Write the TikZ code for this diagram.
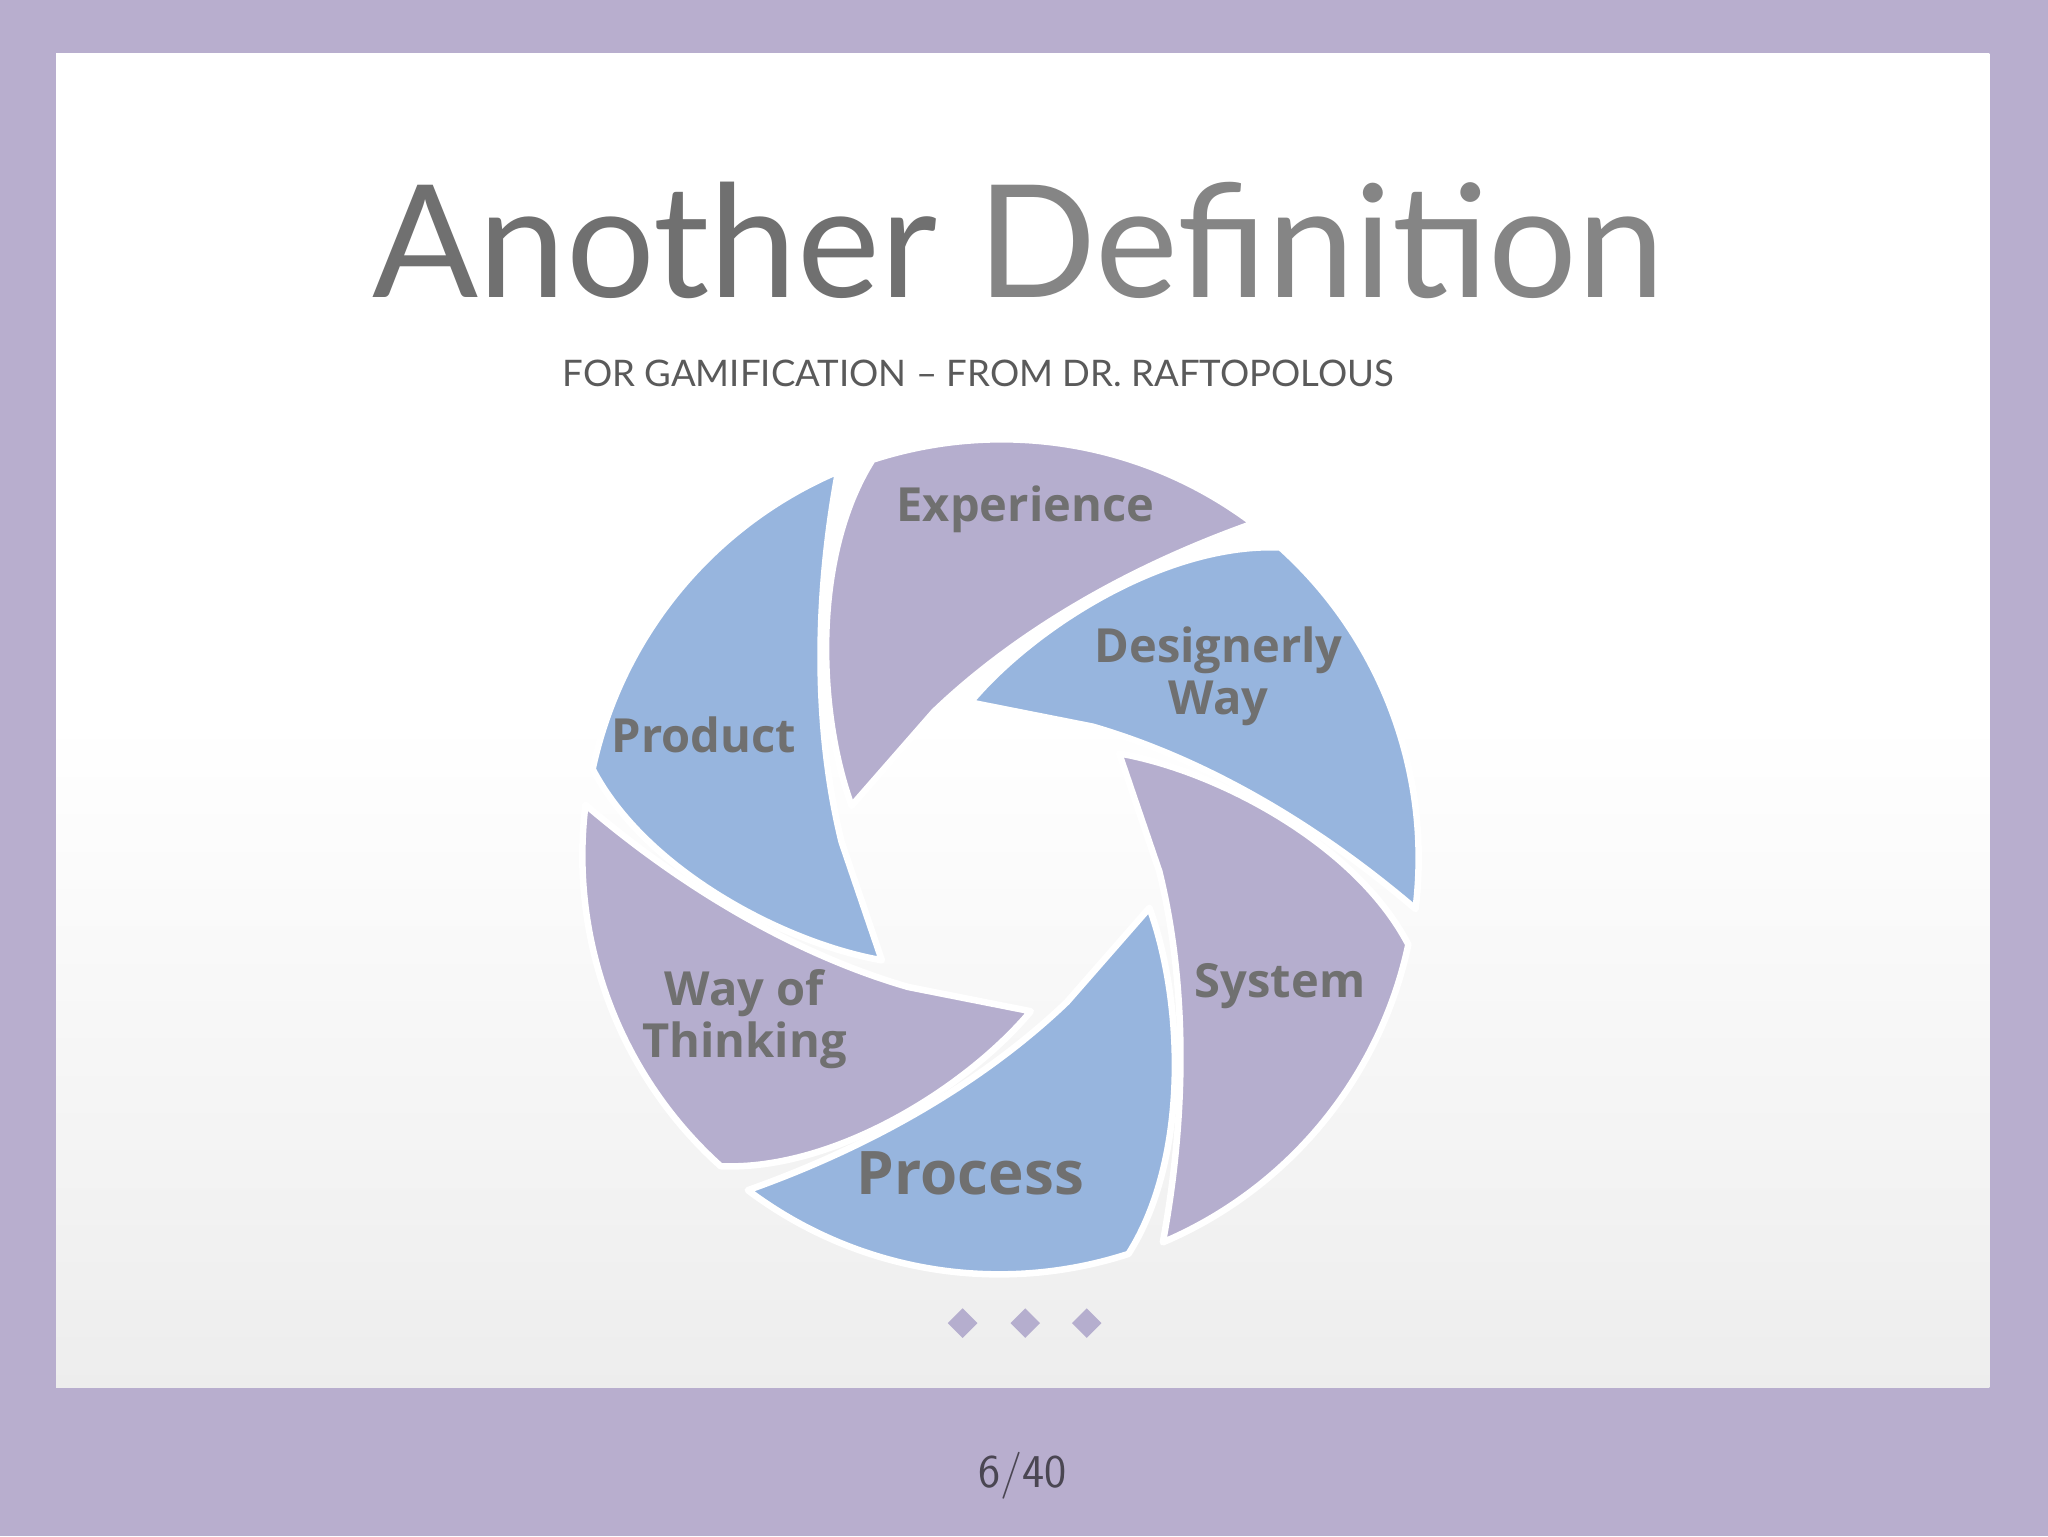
\documentclass[tikz,border=0pt]{standalone}
\usepackage{fontspec}
\setmainfont{Lato}
\newfontfamily\bladefont{Open Sans}
\definecolor{frame}{HTML}{B8AECE}
\definecolor{bpurple}{HTML}{B5AECE}
\definecolor{bblue}{HTML}{97B5DE}
\definecolor{tgray}{HTML}{707070}
\begin{document}
\begin{tikzpicture}[x=1pt,y=-1pt,
  blade/.style={draw=white,line width=5pt,line join=round},
  lbl/.style={font=\bladefont\bfseries\fontsize{36}{40}\selectfont,text=tgray,align=center},
  dia/.style={fill=bpurple,minimum size=16pt,inner sep=0,rotate=45}]
\useasboundingbox (0,0) rectangle (1568,1176);
\fill[frame] (0,0) rectangle (1568,1176);
\shade[top color=white,bottom color=white!93!black,middle color=white] (43,41) rectangle (1523,1062);
\node[font=\fontsize{120}{130}\selectfont,text=tgray,anchor=base] (title) at (780,228) {Another \textcolor{tgray!85}{\addfontfeature{FakeBold=0}Definition}};
\node[font=\fontsize{28}{32}\selectfont,text=tgray!80!black,anchor=base] (sub) at (749,296) {FOR GAMIFICATION – FROM DR. RAFTOPOLOUS};
\begin{scope}[shift={(766,656)},yscale=-1]
\foreach \k/\c in {0/bpurple,1/bblue,2/bpurple,3/bblue,4/bpurple,5/bblue}{
  \path[blade,fill=\c,rotate=-60*\k] (-98,304) arc[start angle=108,end angle=53,radius=320]
    .. controls (80,215) and (0,160) .. (-51,111) -- (-114,39)
    .. controls (-140,110) and (-145,230) .. (-98,304) -- cycle;
}
\end{scope}
\node[lbl] (exp) at (785,390) {Experience};
\node[lbl] (des) at (933,518) {Designerly\\Way};
\node[lbl] (sys) at (980,755) {System};
\node[lbl,font=\bladefont\bfseries\fontsize{46}{50}\selectfont] (pro) at (743,898) {Process};
\node[lbl] (way) at (570,780) {Way of\\Thinking};
\node[lbl] (prd) at (539,563) {Product};
\node[dia] (d1) at (737,1013) {};
\node[dia] (d2) at (785,1013) {};
\node[dia] (d3) at (832,1013) {};
\node[font=\sffamily\fontsize{36}{40}\selectfont,text=black!60!frame] (pg) at (783,1130) {6/40};
\end{tikzpicture}
\end{document}
